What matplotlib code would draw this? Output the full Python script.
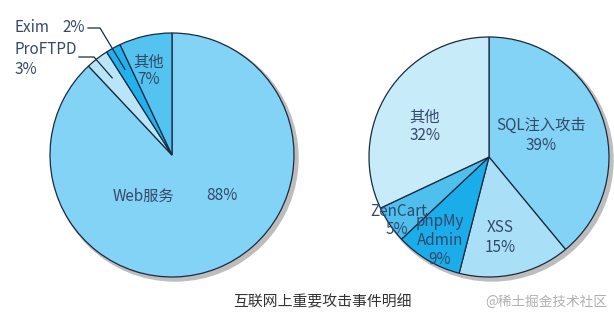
import numpy as np
import matplotlib
matplotlib.use("Agg")
import matplotlib.pyplot as plt
from matplotlib.patches import Circle

plt.rcParams["font.family"] = ["Noto Sans CJK SC", "DejaVu Sans"]
plt.rcParams["font.weight"] = "light"

# left pie: overall attack targets
left_labels = ["Web服务", "ProFTPD", "Exim", "其他"]
left_values = [88, 3, 2, 7]
left_colors = ["#82d3f5", "#b8e5f8", "#22b1ea", "#55c3ef"]

# right pie: web attack breakdown
right_labels = ["SQL注入攻击", "XSS", "phpMy\nAdmin", "ZenCart", "其他"]
right_values = [39, 15, 9, 5, 32]
right_colors = ["#82d3f5", "#a9e0f7", "#1badea", "#4fc0ee", "#c8ebfa"]

title = "互联网上重要攻击事件明细"
watermark = "@稀土掘金技术社区"

W, H = 614, 319
fig = plt.figure(figsize=(W / 100, H / 100), dpi=100)
ax = fig.add_axes([0, 0, 1, 1])

txt = "#34486a"
edge = "#1a2a40"
fs = 11

lc, lr = (172, 164), 122
rc, rr = (489, 162), 120

for c, r in [(lc, lr), (rc, rr)]:
    ax.add_patch(Circle((c[0] + 3, c[1] - 3), r + 1, color="#bdbdbd", zorder=0))

wl, _ = ax.pie(left_values, colors=left_colors, startangle=90, counterclock=False,
               center=lc, radius=lr, frame=True,
               wedgeprops=dict(edgecolor=edge, linewidth=0.9))
wr, _ = ax.pie(right_values, colors=right_colors, startangle=90, counterclock=False,
               center=rc, radius=rr, frame=True,
               wedgeprops=dict(edgecolor=edge, linewidth=0.9))
ax.set_xlim(0, W)
ax.set_ylim(0, H)
ax.set_aspect("equal")
ax.axis("off")

def lab(x, y, s, **kw):
    ax.text(x, H - y, s, ha="center", va="center", fontsize=fs, color=txt, **kw)

# left labels
lab(143, 196, left_labels[0])
lab(222, 196, f"{left_values[0]}%")
lab(149, 62, left_labels[3])
lab(149, 80, f"{left_values[3]}%")
ax.text(15, H - 27, left_labels[2], ha="left", va="center", fontsize=fs, color=txt)
ax.text(62, H - 27, f"{left_values[2]}%", ha="left", va="center", fontsize=fs, color=txt)
ax.text(15, H - 50, left_labels[1], ha="left", va="center", fontsize=fs, color=txt)
ax.text(15, H - 69, f"{left_values[1]}%", ha="left", va="center", fontsize=fs, color=txt)

def leader(w, x0, y0, xk):
    th = np.deg2rad((w.theta1 + w.theta2) / 2)
    ex = lc[0] + 0.8 * lr * np.cos(th)
    ey = lc[1] + 0.8 * lr * np.sin(th)
    ax.plot([x0, xk, ex], [H - y0, H - y0, ey], color=edge, lw=0.9)

leader(wl[2], 88, 28, 100)
leader(wl[1], 79, 57, 94)

# right labels
lab(425, 117, right_labels[4])
lab(425, 136, f"{right_values[4]}%")
lab(541, 125, right_labels[0])
lab(541, 145, f"{right_values[0]}%")
lab(500, 228, right_labels[1])
lab(500, 248, f"{right_values[1]}%")
lab(399, 211, right_labels[3])
lab(397, 230, f"{right_values[3]}%")
ax.text(440, H - 231, right_labels[2], ha="center", va="center", fontsize=fs,
        color=txt, linespacing=1.2)
lab(440, 259, f"{right_values[2]}%")

ax.text(322, H - 302, title, ha="center", va="center", fontsize=10.7, color="#333333")
ax.text(546, H - 302, watermark, ha="center", va="center", fontsize=9.8, color="#b0b0b0")

fig.savefig("out.png", dpi=100, facecolor="white")
